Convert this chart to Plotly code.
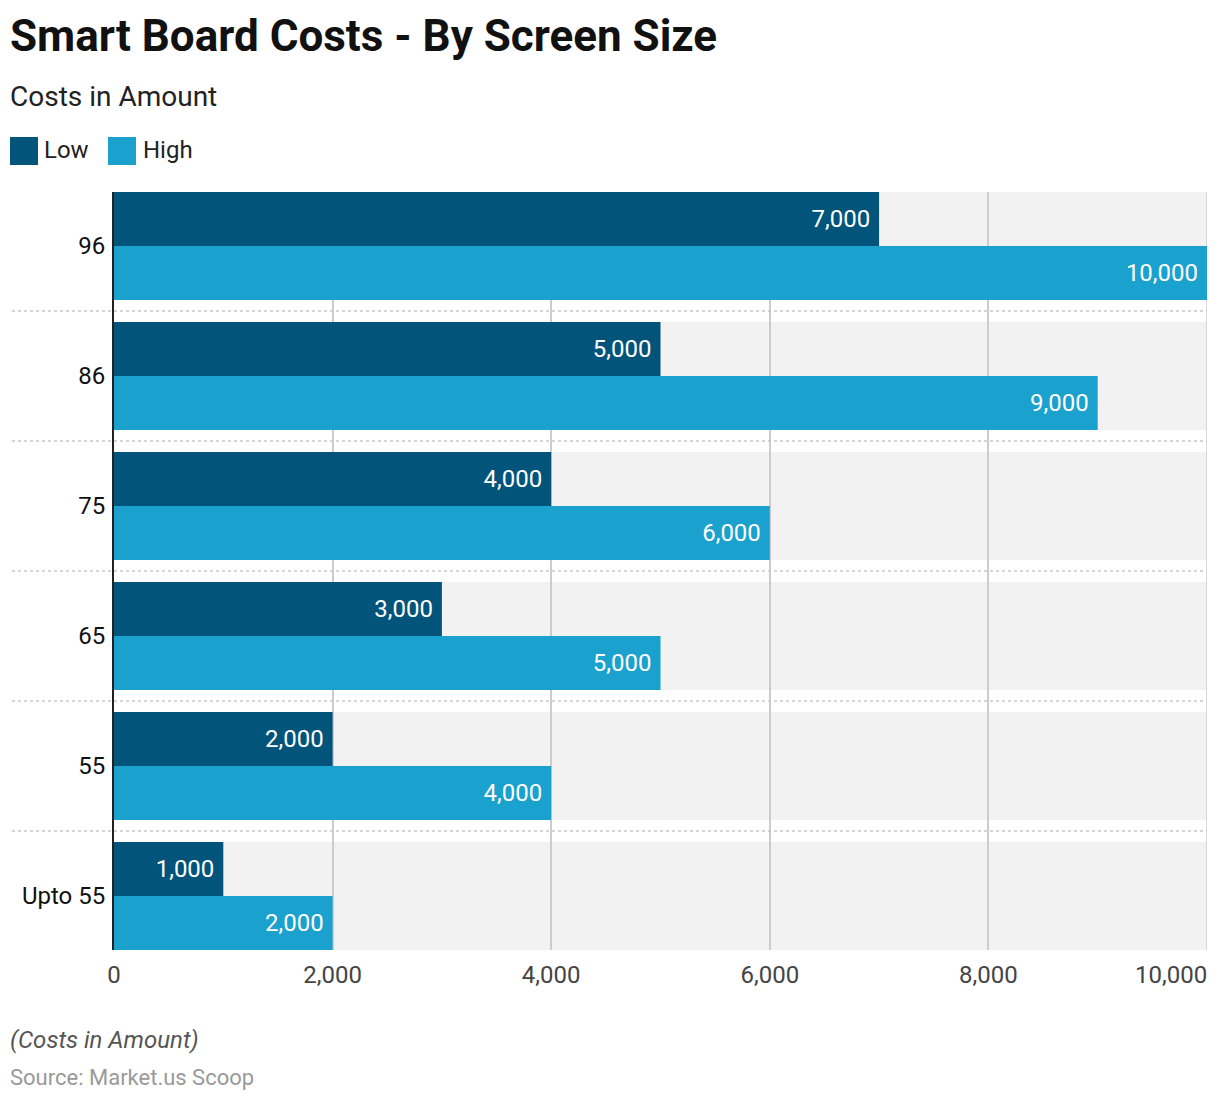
import plotly.graph_objects as go

categories = ["96", "86", "75", "65", "55", "Upto 55"]
low_values = [7000, 5000, 4000, 3000, 2000, 1000]
high_values = [10000, 9000, 6000, 5000, 4000, 2000]
x_ticks = [0, 2000, 4000, 6000, 8000, 10000]

LOW_COLOR = "#03547A"
HIGH_COLOR = "#1AA1CD"
FONT = "Roboto"

OFF = 8  # page body margin
W, H = 1220 - OFF, 1102 - OFF
# plot area in reference page pixels: x 114..1207, y 192..950
PL, PR, PT, PB = 114, 1207, 192, 950
L, R, T, B = PL - OFF, (W + OFF) - PR, PT - OFF, (H + OFF) - PB
PW, PH = PR - PL, PB - PT


def px_x(x):
    return (x - PL) / PW


def px_y(y):
    return (PB - y) / PH


ypos = list(range(len(categories)))
half = 0.5 - 11 / 130

fig = go.Figure()
for name, vals, col in [("Low", low_values, LOW_COLOR), ("High", high_values, HIGH_COLOR)]:
    fig.add_trace(go.Bar(
        name=name, y=ypos, x=vals, orientation="h",
        marker=dict(color=col, line=dict(width=0)),
        texttemplate="%{x:,}\u00a0", textposition="inside", insidetextanchor="end",
        textfont=dict(color="white", size=24, family=FONT), constraintext="none",
        hoverinfo="x+name",
    ))

shapes = []
for i in ypos:
    shapes.append(dict(type="rect", xref="paper", yref="y", x0=0, x1=1,
                       y0=i - half, y1=i + half, fillcolor="#F2F2F2",
                       line=dict(width=0), layer="below"))
for i in ypos[:-1]:
    shapes.append(dict(type="line", xref="paper", yref="y", x0=px_x(12), x1=1,
                       y0=i + 0.5, y1=i + 0.5,
                       line=dict(color="#C8C8C8", width=1.5, dash="dot")))
# right-edge gridline
shapes.append(dict(type="line", xref="x", yref="paper", x0=x_ticks[-1], x1=x_ticks[-1],
                   y0=0, y1=1, line=dict(color="#CCCCCC", width=1.5), layer="below"))

# legend swatches
shapes.append(dict(type="rect", xref="paper", yref="paper", x0=px_x(10), x1=px_x(38),
                   y0=px_y(165), y1=px_y(137), fillcolor=LOW_COLOR, line=dict(width=0)))
shapes.append(dict(type="rect", xref="paper", yref="paper", x0=px_x(108), x1=px_x(136),
                   y0=px_y(165), y1=px_y(137), fillcolor=HIGH_COLOR, line=dict(width=0)))

annotations = [
    dict(text="<b>Smart Board Costs - By Screen Size</b>", x=px_x(8), y=px_y(36),
         font=dict(size=44, color="#111111", family=FONT)),
    dict(text="Costs in Amount", x=px_x(8), y=px_y(97),
         font=dict(size=28, color="#222222", family=FONT)),
    dict(text="Low", x=px_x(42), y=px_y(150),
         font=dict(size=24, color="#222222", family=FONT)),
    dict(text="High", x=px_x(141), y=px_y(150),
         font=dict(size=24, color="#222222", family=FONT)),
    dict(text="<i>(Costs in Amount)</i>", x=px_x(8), y=px_y(1040),
         font=dict(size=24, color="#555555", family=FONT)),
    dict(text="Source: Market.us Scoop", x=px_x(8), y=px_y(1077),
         font=dict(size=22, color="#999999", family=FONT)),
]
for a in annotations:
    a.update(xref="paper", yref="paper", xanchor="left", yanchor="middle",
             showarrow=False)
# last x tick label, right-aligned to the plot edge
annotations.append(dict(text=f"{x_ticks[-1]:,}", xref="x", yref="paper",
                        x=x_ticks[-1], y=px_y(975), xanchor="right", yanchor="middle",
                        showarrow=False, xshift=2,
                        font=dict(size=24, color="#444444", family=FONT)))

tick_text = [f"{v:,}" for v in x_ticks[:-1]] + [""]

fig.update_layout(
    width=W, height=H,
    margin=dict(l=L, r=R, t=T, b=B, pad=0),
    paper_bgcolor="white", plot_bgcolor="white",
    barmode="group", bargap=22 / 130, bargroupgap=0,
    showlegend=False,
    font=dict(family=FONT),
    shapes=shapes, annotations=annotations,
    xaxis=dict(range=[0, x_ticks[-1]], tickvals=x_ticks, ticktext=tick_text,
               showgrid=True, gridcolor="#CCCCCC", gridwidth=1.5,
               zeroline=False, showline=False,
               ticks="outside", ticklen=3, tickcolor="rgba(0,0,0,0)",
               tickfont=dict(size=24, color="#444444", family=FONT)),
    yaxis=dict(range=[len(categories) - 1 + half, -half], tickvals=ypos,
               ticktext=categories, showgrid=False, zeroline=False,
               showline=True, linecolor="#222222", linewidth=2,
               ticks="outside", ticklen=2, tickcolor="rgba(0,0,0,0)",
               tickfont=dict(size=24, color="#111111", family=FONT)),
)

fig.write_html("out.html")
